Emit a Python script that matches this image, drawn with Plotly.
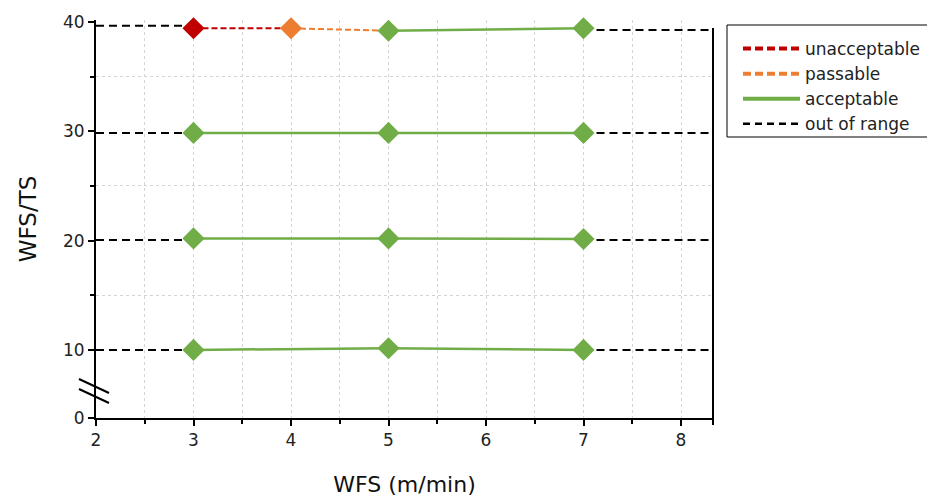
import plotly.graph_objects as go

# ---------------- data ----------------
wfs_ts_levels = [40, 30, 20, 10]
row_x = [[3, 4, 5, 7], [3, 5, 7], [3, 5, 7], [3, 5, 7]]
row_y = [[39.42, 39.42, 39.2, 39.42],
         [29.85, 29.85, 29.85],
         [20.2, 20.2, 20.15],
         [10.0, 10.15, 10.0]]
row_status = [["unacceptable", "passable", "acceptable", "acceptable"],
              ["acceptable"] * 3,
              ["acceptable"] * 3,
              ["acceptable"] * 3]
oor_left_y = [39.65, 29.85, 20.05, 10.0]
oor_right_y = [39.27, 29.85, 20.05, 10.0]

x_axis_min, x_axis_max = 2, 8.328
x_ticks = [2, 3, 4, 5, 6, 7, 8]
y_break_value = 3.77          # plotted position of the compressed "0"
y_tickvals = [y_break_value, 10, 20, 30, 40]
y_ticktext = ["0", "10", "20", "30", "40"]

colors = {"unacceptable": "#C00000", "passable": "#ED7D31",
          "acceptable": "#70AD47", "out of range": "#000000"}
line_styles = {"unacceptable": dict(dash="6px,3px", width=2),
               "passable": dict(dash="6px,3px", width=2),
               "acceptable": dict(dash="solid", width=2.5)}

FONT = "DejaVu Sans"
fig = go.Figure()

# out-of-range dashed lines
for xs, yl, yr in zip(row_x, oor_left_y, oor_right_y):
    fig.add_trace(go.Scatter(x=[x_axis_min, xs[0]], y=[yl, yl], mode="lines",
                             line=dict(color="black", width=2, dash="8px,5px"),
                             showlegend=False, hoverinfo="skip", cliponaxis=False))
    fig.add_trace(go.Scatter(x=[xs[-1], x_axis_max], y=[yr, yr], mode="lines",
                             line=dict(color="black", width=2, dash="8px,5px"),
                             showlegend=False, hoverinfo="skip", cliponaxis=False))

# segments
for xs, ys, st in zip(row_x, row_y, row_status):
    for i in range(len(xs) - 1):
        s = st[i]
        fig.add_trace(go.Scatter(x=[xs[i], xs[i + 1]], y=[ys[i], ys[i + 1]], mode="lines",
                                 line=dict(color=colors[s], **line_styles[s]),
                                 showlegend=False, hoverinfo="skip"))

# markers
for xs, ys, st in zip(row_x, row_y, row_status):
    fig.add_trace(go.Scatter(x=xs, y=ys, mode="markers",
                             marker=dict(symbol="diamond", size=17,
                                         color=[colors[s] for s in st], line=dict(width=0)),
                             showlegend=False, cliponaxis=False))

# legend entries
legend_items = [("unacceptable", dict(color=colors["unacceptable"], width=4, dash="8px,4px")),
                ("passable", dict(color=colors["passable"], width=4, dash="8px,4px")),
                ("acceptable", dict(color=colors["acceptable"], width=4)),
                ("out of range", dict(color="black", width=2.5, dash="7px,5px"))]
for name, ln in legend_items:
    fig.add_trace(go.Scatter(x=[None], y=[None], mode="lines", name=name, line=ln))

L, R, T, B = 96, 214, 20, 80
W, H = 927, 498
pw, ph = W - L - R, H - T - B

def px2paper(px, py):
    return (px - L) / pw, (H - B - py) / ph

shapes = []
# right frame line
x0, y0 = px2paper(713, 28)
_, y1 = px2paper(713, 425)
shapes.append(dict(type="line", xref="paper", yref="paper", x0=1, x1=1, y0=y1, y1=y0,
                   line=dict(color="black", width=2)))
# axis break marks
for (ax, ay, bx, by) in [(79, 379, 109, 393), (79, 389, 109, 403)]:
    a = px2paper(ax, ay)
    b = px2paper(bx, by)
    shapes.append(dict(type="line", xref="paper", yref="paper", x0=a[0], y0=a[1], x1=b[0], y1=b[1],
                       line=dict(color="black", width=2)))
# legend frame (extends past the right edge like the reference)
lb0 = px2paper(727, 25)
lb1 = px2paper(945, 137)
shapes.append(dict(type="rect", xref="paper", yref="paper", x0=lb0[0], y0=lb1[1], x1=lb1[0], y1=lb0[1],
                   line=dict(color="black", width=1), fillcolor="rgba(0,0,0,0)"))

leg = px2paper(738, 31)
fig.update_layout(
    width=W, height=H,
    margin=dict(l=L, r=R, t=T, b=B, autoexpand=False),
    plot_bgcolor="white", paper_bgcolor="white",
    font=dict(family=FONT, color="#222"),
    shapes=shapes,
    showlegend=True,
    legend=dict(x=leg[0], y=leg[1], xanchor="left", yanchor="top",
                borderwidth=0, font=dict(size=17, family=FONT, color="#222"),
                tracegroupgap=0, itemwidth=57, bgcolor="rgba(0,0,0,0)"),
    xaxis=dict(range=[x_axis_min, x_axis_max], tickvals=x_ticks, showgrid=False, zeroline=False,
               showline=True, linecolor="black", linewidth=2, ticks="outside", ticklen=6,
               tickwidth=2, tickcolor="black", tickfont=dict(size=17, family=FONT, color="#222"),
               minor=dict(dtick=0.5, tick0=2, ticks="outside", ticklen=4, tickwidth=1.5,
                          tickcolor="black", showgrid=True, griddash="dot",
                          gridcolor="#d4d4d4", gridwidth=1),
               title=dict(text="WFS (m/min)", font=dict(size=22, family=FONT, color="#111"),
                          standoff=27)),
    yaxis=dict(range=[y_break_value, 40.18], tickvals=y_tickvals, ticktext=y_ticktext,
               showgrid=False, zeroline=False, showline=True, linecolor="black", linewidth=2,
               ticks="outside", ticklen=6, tickwidth=2, tickcolor="black",
               tickfont=dict(size=17, family=FONT, color="#222"),
               minor=dict(tickvals=[15, 25, 35], ticks="outside", ticklen=4, tickwidth=1.5,
                          tickcolor="black", showgrid=True, griddash="dot",
                          gridcolor="#d4d4d4", gridwidth=1),
               title=dict(text="WFS/TS", font=dict(size=23, family=FONT, color="#111"),
                          standoff=20)),
)

fig.write_html("out.html")
